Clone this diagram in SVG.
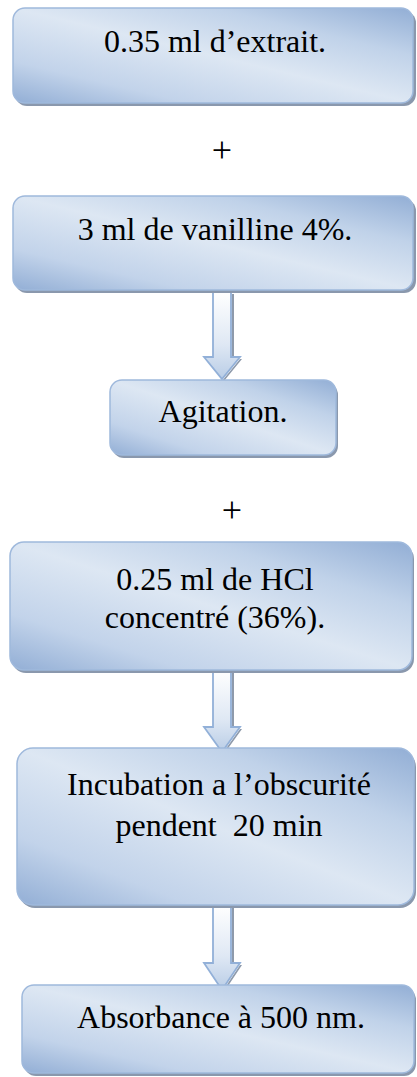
<svg xmlns="http://www.w3.org/2000/svg" width="417" height="1077" viewBox="0 0 417 1077">
<defs>
<linearGradient id="boxg" x1="0" y1="1" x2="1" y2="0">
<stop offset="0" stop-color="#92aed5"/>
<stop offset="0.22" stop-color="#c2d3ea"/>
<stop offset="0.5" stop-color="#dde7f3"/>
<stop offset="0.75" stop-color="#c0d2e9"/>
<stop offset="1" stop-color="#92aed5"/>
</linearGradient>
<linearGradient id="arrg" x1="0" y1="0" x2="0" y2="1">
<stop offset="0" stop-color="#ffffff"/>
<stop offset="0.6" stop-color="#dfe8f4"/>
<stop offset="1" stop-color="#b9cde6"/>
</linearGradient>
</defs>
<style>
.shadow{fill:#8a98ad;}
.box{fill:url(#boxg);stroke:#9fb9dc;stroke-width:1.5;}
.arrow{fill:url(#arrg);stroke:#92b0d8;stroke-width:1.8;stroke-linejoin:miter;}
.ashadow{fill:#8e9aab;}
.t{font-family:"Liberation Serif","Times New Roman",serif;font-size:32px;fill:#000;text-anchor:middle;white-space:pre;}
.p{font-family:"Liberation Serif","Times New Roman",serif;font-size:36px;fill:#000;text-anchor:middle;}
</style>

<g id="connectors">
<path class="ashadow" d="M232,294 L234,294 L234,359 L242,359 L224,381 L222,381 L240,359 L232,359 Z"/>
<path class="arrow" d="M213,292 L231,292 L231,357 L240,357 L222,379 L204,357 L213,357 Z"/>
<path class="ashadow" d="M232,672 L234,672 L234,729 L242,729 L224,754 L222,754 L240,729 L232,729 Z"/>
<path class="arrow" d="M213,670 L231,670 L231,727 L240,727 L222,752 L204,727 L213,727 Z"/>
<path class="ashadow" d="M232,907 L234,907 L234,965 L242,965 L224,992 L222,992 L240,965 L232,965 Z"/>
<path class="arrow" d="M213,905 L231,905 L231,963 L240,963 L222,990 L204,963 L213,963 Z"/>
</g>

<g id="n1">
<rect class="shadow" x="15" y="11" width="401" height="95" rx="12"/>
<rect class="box" x="13" y="8" width="400" height="95" rx="12"/>
<text class="t" x="215" y="52">0.35 ml d’extrait.</text>
</g>

<g id="plus1">
<text class="p" x="222" y="162">+</text>
</g>

<g id="n2">
<rect class="shadow" x="15" y="199" width="401" height="94" rx="12"/>
<rect class="box" x="13" y="196" width="400" height="94" rx="12"/>
<text class="t" x="215" y="240">3 ml de vanilline 4%.</text>
</g>

<g id="n3">
<rect class="shadow" x="112" y="383" width="226" height="75" rx="12"/>
<rect class="box" x="110" y="380" width="226" height="75" rx="12"/>
<text class="t" x="223" y="422">Agitation.</text>
</g>

<g id="plus2">
<text class="p" x="232" y="522">+</text>
</g>

<g id="n4">
<rect class="shadow" x="12" y="545" width="402" height="128" rx="14"/>
<rect class="box" x="10" y="542" width="402" height="128" rx="14"/>
<text class="t" x="215" y="590">0.25 ml de HCl</text>
<text class="t" x="215" y="628">concentré (36%).</text>
</g>

<g id="n5">
<rect class="shadow" x="19" y="751" width="397" height="157" rx="16"/>
<rect class="box" x="17" y="748" width="397" height="157" rx="16"/>
<text class="t" x="219" y="795">Incubation a l’obscurité</text>
<text class="t" x="219" y="836">pendent  20 min</text>
</g>

<g id="n6">
<rect class="shadow" x="24" y="988" width="392" height="88" rx="12"/>
<rect class="box" x="22" y="985" width="392" height="88" rx="12"/>
<text class="t" x="221" y="1028">Absorbance à 500 nm.</text>
</g>
</svg>
